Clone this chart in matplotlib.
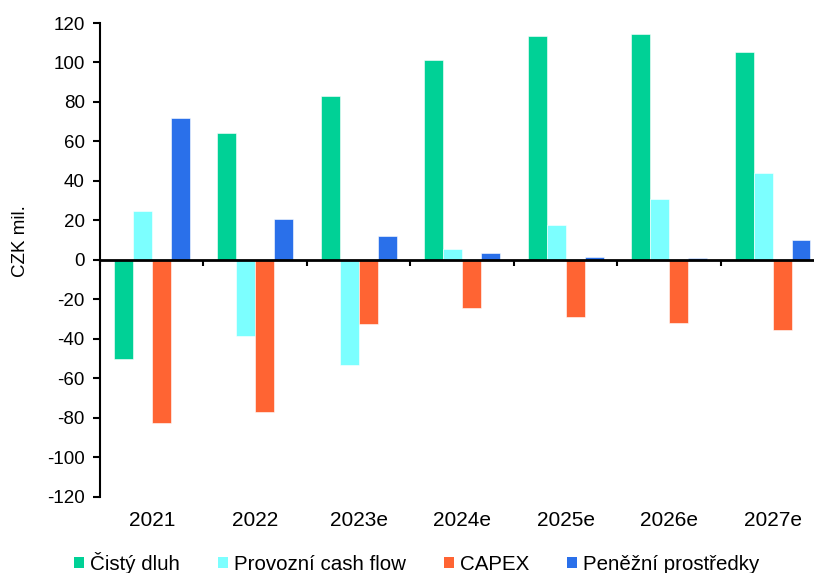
import numpy as np
import matplotlib
matplotlib.use('Agg')
import matplotlib.pyplot as plt
import matplotlib.transforms as mtransforms
from matplotlib.patches import Patch

plt.rcParams['font.family'] = ['Liberation Sans', 'DejaVu Sans']
plt.rcParams['font.size'] = 13
plt.rcParams['axes.unicode_minus'] = False

# Data (CZK mil.)
years = ['2021', '2022', '2023e', '2024e', '2025e', '2026e', '2027e']
cisty_dluh = [-50.5, 64.4, 83.2, 101.3, 113.5, 114.2, 105.2]
provozni_cf = [24.6, -38.5, -53.4, 5.7, 17.4, 30.7, 43.9]
capex = [-82.5, -77.1, -32.7, -24.6, -29.0, -31.9, -35.6]
penezni = [71.7, 20.8, 11.8, 3.5, 1.5, 0.8, 9.8]

series = [
    ('Čistý dluh', cisty_dluh, '#00D196'),
    ('Provozní cash flow', provozni_cf, '#7CFFFF'),
    ('CAPEX', capex, '#FF6433'),
    ('Peněžní prostředky', penezni, '#2A70EA'),
]

fig = plt.figure(figsize=(8.14, 5.73), dpi=100)
ax = fig.add_axes([100 / 814, 1 - 496.5 / 573, 1 - 100 / 814, (496.5 - 23) / 573])

x = np.arange(len(years))
w = 0.183
for i, (name, vals, col) in enumerate(series):
    ax.bar(x + (i - 1.5) * w, vals, w, color=col, edgecolor='white', linewidth=0.4, zorder=2)

ax.set_ylim(-120, 120)
ax.set_yticks(np.arange(-120, 121, 20))
ax.set_xlim(-0.5, 6.4)

for s in ['top', 'right']:
    ax.spines[s].set_visible(False)
ax.spines['left'].set_linewidth(1.5)
ax.spines['bottom'].set_position(('data', 0))
ax.spines['bottom'].set_linewidth(2)
ax.spines['bottom'].set_zorder(3)

ax.set_xticks(np.arange(-0.5, 6.5, 1.0))
ax.tick_params(axis='x', length=4, width=1.5, direction='out', labelbottom=False)
ax.tick_params(axis='y', length=5, width=1.5, direction='out', pad=6, labelsize=13.5)

trans = mtransforms.blended_transform_factory(ax.transData, ax.transAxes)
for xi, lab in zip(x, years):
    ax.text(xi, -0.05, lab, transform=trans, ha='center', va='center', fontsize=15)

ax.set_ylabel('CZK mil.', fontsize=13.5)
ax.yaxis.set_label_coords(-0.100, 0.54)

handles = [Patch(facecolor=c, edgecolor='none') for _, _, c in series]
fig.legend(handles, [s[0] for s in series], loc='center', bbox_to_anchor=(0.512, 1 - 563 / 573),
           ncol=4, frameon=False, fontsize=14.8, handlelength=0.48, handleheight=0.48,
           handletextpad=0.3, columnspacing=1.85)

fig.savefig('out.png', dpi=100)
